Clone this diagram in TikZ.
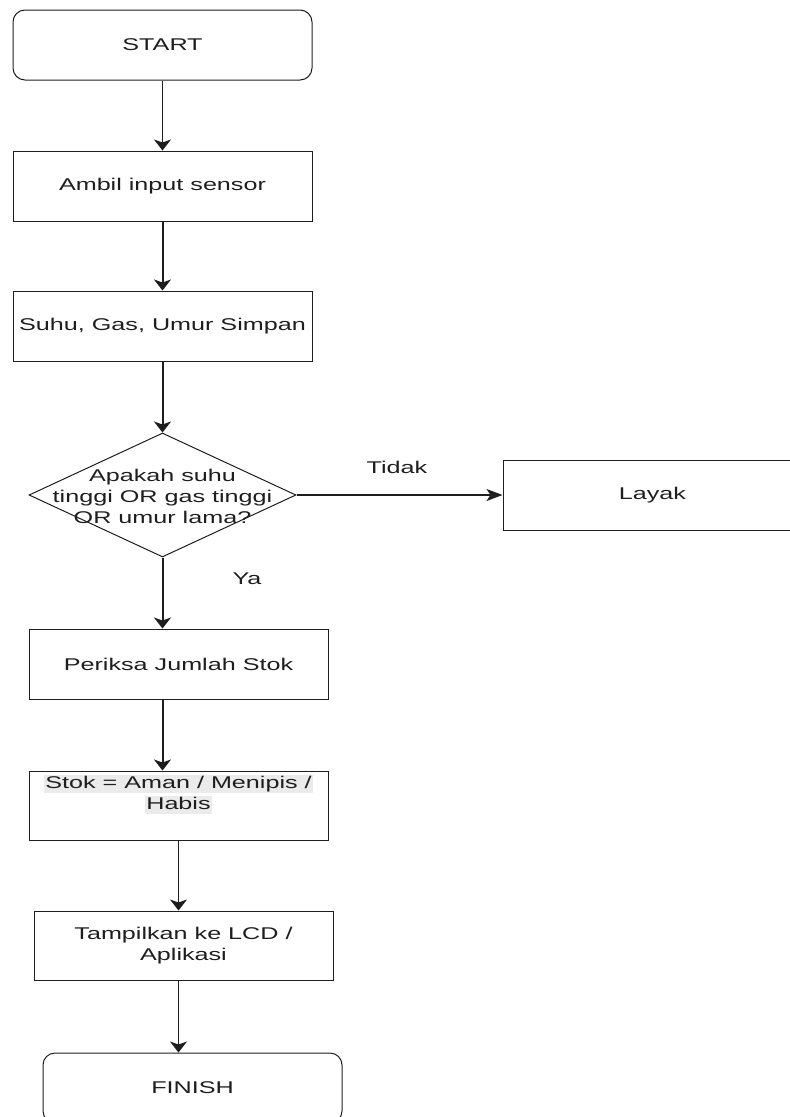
\documentclass[tikz,border=0pt]{standalone}
\usepackage{fontspec}
\setmainfont{Liberation Sans}[FakeStretch=1.48]
\usetikzlibrary{shapes.geometric,arrows.meta}
\definecolor{ink}{HTML}{1E1E1E}
\definecolor{hl}{HTML}{EBEBEB}
\tikzset{
  every node/.style={font=\fontsize{17}{21}\selectfont, text=ink},
  box/.style={draw=ink, line width=1pt, minimum width=299pt, minimum height=70pt, inner sep=0pt, align=center},
  term/.style={box, rounded corners=12pt},
  decision/.style={draw=ink, line width=1pt, diamond, minimum width=267pt, minimum height=124pt, inner sep=0pt},
  thin arrow/.style={draw=ink, line width=1pt, -{Stealth[length=11pt,width=17pt,inset=3pt]}},
  thick arrow/.style={thin arrow, line width=2pt},
  side arrow/.style={draw=ink, line width=1.3pt, -{Stealth[length=16pt,width=12pt,inset=4pt]}}
}
\newcommand{\hlline}[1]{{\setlength{\fboxsep}{1pt}\colorbox{hl}{\vphantom{Ay}#1}}}

\begin{document}
\begin{tikzpicture}[x=1pt,y=-1pt]
\clip (0,0) rectangle (790,1117);
\node[term] (start) at (162.5,45) {START};
\node[box] (ambil) at (162.5,186) {Ambil input sensor};
\node[box] (suhu) at (162.5,326) {Suhu, Gas, Umur Simpan};
\node[decision] (cek) at (162.5,495) {};
\node[align=center, inner sep=0pt] (cektxt) at (162.5,496) {Apakah suhu\\tinggi OR gas tinggi\\OR umur lama?};
\node[box] (layak) at (652.5,495) {Layak};
\node[box] (periksa) at (178.5,664) {Periksa Jumlah Stok};
\node[box, minimum height=69pt] (stok) at (178.5,805.5) {\hlline{Stok = Aman / Menipis /}\\\hlline{Habis}\\ \strut};
\node[box, minimum height=69pt] (tampil) at (183.5,945.5) {Tampilkan ke LCD /\\Aplikasi};
\node[term] (finish) at (192.5,1088) {FINISH};
\node (tidak) at (397,467) {Tidak};
\node (ya) at (247,579) {Ya};
\draw[thin arrow] (start) -- (ambil);
\draw[thick arrow] (ambil) -- (suhu);
\draw[thick arrow] (suhu) -- (cek);
\draw[side arrow] (cek) -- (layak);
\draw[thick arrow] (cek.south) -- (cek.south |- periksa.north);
\draw[thick arrow] (cek.south |- periksa.south) -- (cek.south |- stok.north);
\draw[thin arrow] (stok.south) -- (stok.south |- tampil.north);
\draw[thin arrow] (stok.south |- tampil.south) -- (stok.south |- finish.north);
\end{tikzpicture}
\end{document}
